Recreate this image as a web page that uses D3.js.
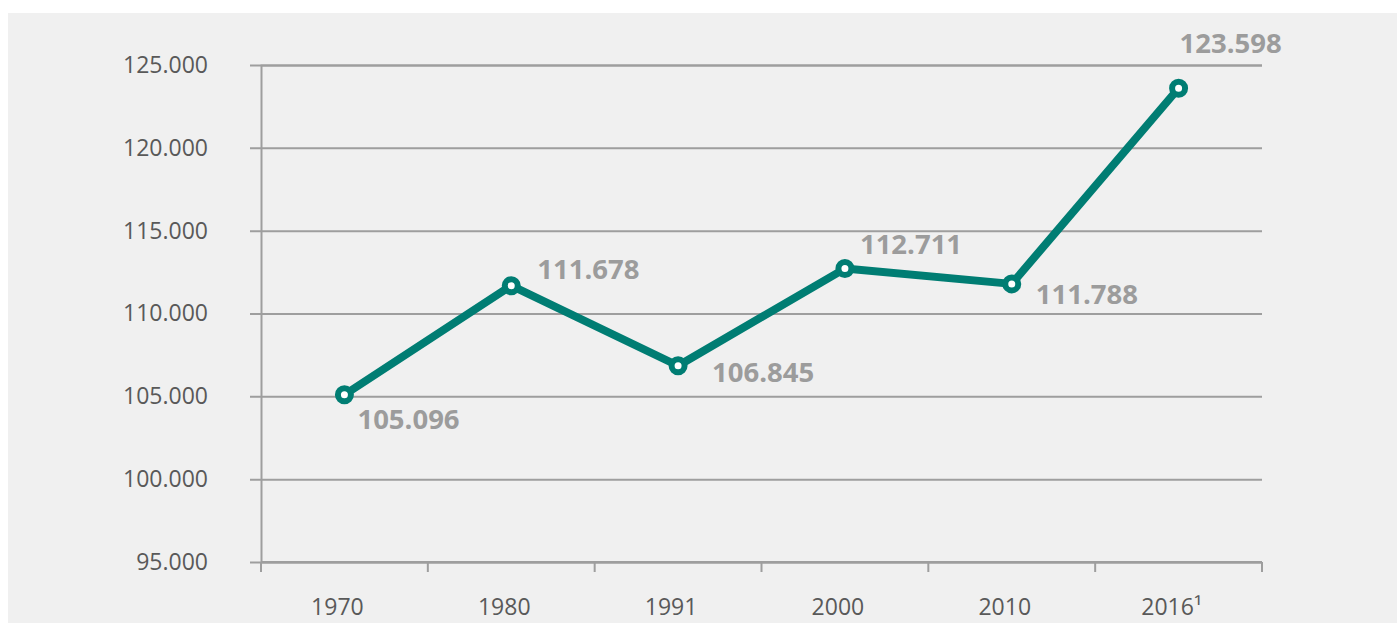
<!DOCTYPE html>
<html>
<head>
<meta charset="utf-8">
<script src="https://cdn.jsdelivr.net/npm/d3@7"></script>
<style>
  html, body { margin: 0; padding: 0; background: #ffffff; }
  #chart { width: 1397px; height: 623px; }
  svg { display: block; font-family: "Open Sans", sans-serif; }
</style>
</head>
<body>
<div id="chart"></div>
<script>
// data
const years = ["1970", "1980", "1991", "2000", "2010", "2016¹"];
const values = [105096, 111678, 106845, 112711, 111788, 123598];
const labels = ["105.096", "111.678", "106.845", "112.711", "111.788", "123.598"];
const yTicks = [95000, 100000, 105000, 110000, 115000, 120000, 125000];
// label offsets from each point [dx, dy] (layout only)
const labelOffset = [[13, 34.5], [26, -6.5], [34, 16.5], [15, -15], [24, 20.5], [1, -35]];

const width = 1397;
const height = 623;
const margin = {top: 65, right: 135, bottom: 61, left: 261};

const svg = d3.select("#chart")
    .append("svg")
    .attr("width", width)
    .attr("height", height);

// grey panel
svg.append("rect")
    .attr("x", 8)
    .attr("y", 13)
    .attr("width", width - 8)
    .attr("height", height - 13)
    .attr("fill", "#f0f0f0");

const x = d3.scaleBand()
    .domain(years)
    .range([margin.left, width - margin.right]);

const y = d3.scaleLinear()
    .domain([95000, 125000])
    .range([height - margin.bottom, margin.top]);

const fmt = d => d3.format(",")(d).replace(/,/g, ".");

// y-axis with gridlines
const yAxis = svg.append("g")
    .attr("class", "yAxis")
    .attr("transform", "translate(" + margin.left + ",0)")
    .call(d3.axisLeft(y)
        .tickValues(yTicks)
        .tickFormat(fmt)
        .tickSize(-(width - margin.right - margin.left))
        .tickPadding(0));

yAxis.select(".domain").attr("stroke", "#9e9e9e").attr("stroke-width", 2);
yAxis.selectAll(".tick line")
    .attr("x1", -11)
    .attr("stroke", "#9e9e9e")
    .attr("stroke-width", 2);
yAxis.selectAll(".tick text")
    .attr("x", -53)
    .attr("fill", "#595959")
    .attr("font-size", "23px")
    .attr("font-family", "'Open Sans', sans-serif");

// x-axis with ticks at band edges
const xAxis = svg.append("g")
    .attr("class", "xAxis")
    .attr("transform", "translate(0," + (height - margin.bottom) + ")")
    .call(d3.axisBottom(x).tickSize(0).tickPadding(0));

xAxis.select(".domain").remove();
xAxis.append("line")
    .attr("x1", margin.left)
    .attr("x2", width - margin.right)
    .attr("stroke", "#9e9e9e")
    .attr("stroke-width", 2);
xAxis.selectAll(".edge")
    .data(years.concat(["end"]))
    .enter()
    .append("line")
    .attr("class", "edge")
    .attr("x1", (d, i) => i < years.length ? x(d) : x(years[years.length - 1]) + x.bandwidth())
    .attr("x2", (d, i) => i < years.length ? x(d) : x(years[years.length - 1]) + x.bandwidth())
    .attr("y1", 0)
    .attr("y2", 10)
    .attr("stroke", "#9e9e9e")
    .attr("stroke-width", 2);
xAxis.selectAll(".tick text")
    .attr("x", -7)
    .attr("y", 53)
    .attr("dy", 0)
    .attr("fill", "#595959")
    .attr("font-size", "23px")
    .attr("font-family", "'Open Sans', sans-serif");

// line
const cx = d => x(d) + x.bandwidth() / 2;
const pts = years.map((d, i) => [cx(d), y(values[i])]);

const plot = svg.append("g").attr("id", "plot");

plot.append("path")
    .datum(pts)
    .attr("d", d3.line())
    .attr("fill", "none")
    .attr("stroke", "#007d73")
    .attr("stroke-width", 8)
    .attr("stroke-linejoin", "round");

plot.selectAll("circle")
    .data(pts)
    .enter()
    .append("circle")
    .attr("cx", d => d[0])
    .attr("cy", d => d[1])
    .attr("r", 6.5)
    .attr("fill", "#ffffff")
    .attr("stroke", "#007d73")
    .attr("stroke-width", 6);

// value labels
plot.selectAll(".valueLabel")
    .data(pts)
    .enter()
    .append("text")
    .attr("class", "valueLabel")
    .attr("x", (d, i) => d[0] + labelOffset[i][0])
    .attr("y", (d, i) => d[1] + labelOffset[i][1])
    .text((d, i) => labels[i])
    .attr("fill", "#9c9c9c")
    .attr("font-weight", "bold")
    .attr("font-size", "27.5px")
    .attr("font-family", "'Open Sans', sans-serif");
</script>
</body>
</html>
